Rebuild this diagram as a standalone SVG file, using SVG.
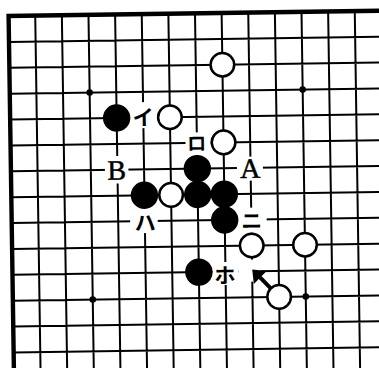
<svg xmlns="http://www.w3.org/2000/svg" width="379" height="368" viewBox="0 0 379 368">
<style>
.g{stroke:#000;stroke-width:2;fill:none}
.bd{stroke:#000;stroke-width:4.4;fill:none}
.bk{fill:#000}
.wt{fill:#fff;stroke:#000;stroke-width:2.5}
.st{fill:#000}
.er{fill:#fff}
.lat{font-family:"Liberation Serif",serif;font-size:28px;fill:#000;stroke:#000;stroke-width:0.5;text-anchor:middle}
.kt{font-family:"Noto Sans CJK JP",sans-serif;font-weight:bold;font-size:21px;fill:#000;text-anchor:middle;dominant-baseline:central}
</style>
<rect width="379" height="368" fill="#fff"/>
<g id="board" transform="matrix(0.9999 -0.01408 0.015 1 8.6 16)">
<g id="grid">
<path class="g" d="M26.63 0V372M53.26 0V372M79.89 0V372M106.52 0V372M133.15 0V372M159.78 0V372M186.41 0V372M213.04 0V372M239.67 0V372M266.3 0V372M292.93 0V372M319.56 0V372M346.19 0V372M0 25.875H392M0 51.75H392M0 77.625H392M0 103.5H392M0 129.375H392M0 155.25H392M0 181.125H392M0 207H392M0 232.875H392M0 258.75H392M0 284.625H392M0 310.5H392M0 336.375H392M0 362.25H392"/>
<path class="bd" d="M0 -2.2V372M-2.2 0H392"/>
</g>
<g id="stars">
<circle class="st" cx="79.89" cy="77.625" r="3.3"/>
<circle class="st" cx="292.93" cy="77.625" r="3.3"/>
<circle class="st" cx="79.89" cy="284.625" r="3.3"/>
<circle class="st" cx="292.93" cy="284.625" r="3.3"/>
</g>
<g id="erase">
<rect class="er" x="119" y="88" width="28" height="26"/>
<rect class="er" x="175" y="119" width="25" height="23"/>
<rect class="er" x="94" y="141.5" width="23.5" height="27.5"/>
<rect class="er" x="226" y="144" width="26" height="24"/>
<rect class="er" x="118.5" y="194" width="27.5" height="25"/>
<rect class="er" x="226" y="195" width="29" height="25"/>
<rect class="er" x="200" y="249" width="26" height="23"/>
<rect class="er" x="226" y="247" width="22" height="22"/>
</g>
<g id="black-stones">
<circle id="b-4-4" class="bk" cx="106.52" cy="103.5" r="13.7"/>
<circle id="b-7-6" class="bk" cx="186.41" cy="155.25" r="13.7"/>
<circle id="b-5-7" class="bk" cx="133.15" cy="181.125" r="13.7"/>
<circle id="b-7-7" class="bk" cx="186.41" cy="181.125" r="13.7"/>
<circle id="b-8-7" class="bk" cx="213.04" cy="181.125" r="13.7"/>
<circle id="b-8-8" class="bk" cx="213.04" cy="207" r="13.7"/>
<circle id="b-7-10" class="bk" cx="186.41" cy="258.75" r="13.7"/>
</g>
<g id="white-stones">
<circle id="w-8-2" class="wt" cx="213.04" cy="51.75" r="11.8"/>
<circle id="w-6-4" class="wt" cx="159.78" cy="103.5" r="11.8"/>
<circle id="w-8-5" class="wt" cx="213.04" cy="129.375" r="11.8"/>
<circle id="w-6-7" class="wt" cx="159.78" cy="181.125" r="11.8"/>
<circle id="w-9-9" class="wt" cx="239.67" cy="232.875" r="11.8"/>
<circle id="w-11-9" class="wt" cx="292.93" cy="232.875" r="11.8"/>
<circle id="w-10-11" class="wt" cx="266.3" cy="284.625" r="11.8"/>
</g>
<g id="labels">
<text class="kt" x="133" y="102">イ</text>
<text class="kt" x="186.2" y="128.5" style="font-size:19px">ロ</text>
<text class="lat" x="105.8" y="165">B</text>
<text class="lat" x="239.2" y="165.3">A</text>
<text class="kt" x="133.3" y="207.6">ハ</text>
<text class="kt" x="240" y="207">ニ</text>
<text class="kt" x="212.5" y="261">ホ</text>
</g>
<g id="connectors">
<path d="M257.8 275.7L247.5 264.9" stroke="#000" stroke-width="4" fill="none"/>
<path d="M239.8 256.8L254.2 258.6L241.2 271.4Z" fill="#000"/>
</g>
</g>
</svg>
